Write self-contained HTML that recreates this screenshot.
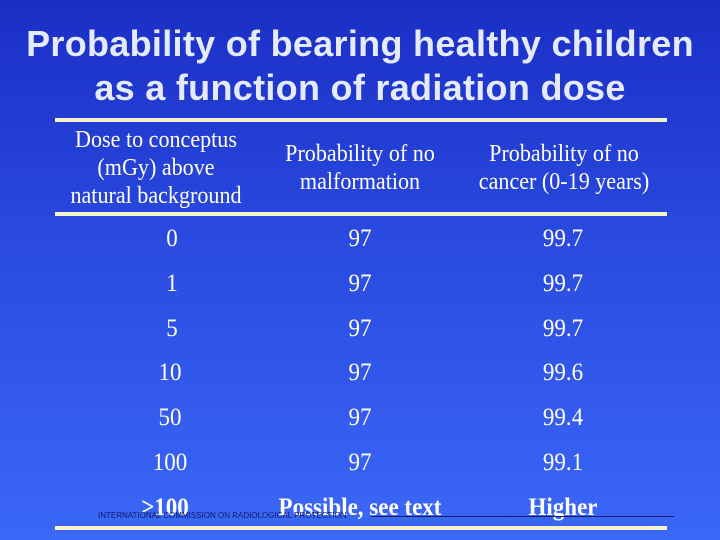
<!DOCTYPE html>
<html><head><meta charset="utf-8"><style>
body{margin:0;width:720px;height:540px;overflow:hidden;}
#slide{position:relative;width:720px;height:540px;background:linear-gradient(180deg,#1b2ec4 0%,#2a4ae0 45%,#3b68f8 100%);font-family:"Liberation Serif",serif;color:#fff;}
.t{position:absolute;left:0;width:720px;text-align:center;font-family:"Liberation Sans",sans-serif;font-weight:bold;font-size:36px;color:#e4eaff;letter-spacing:0.3px;}
.bar{position:absolute;left:55px;width:612px;height:4px;background:#f4f4c8;}
.c{position:absolute;text-align:center;font-size:25px;line-height:28px;white-space:nowrap;transform:translateX(-50%) scaleX(0.92);}
.h{font-size:24px;}
</style></head><body>
<div id="slide">
<div class="t" style="top:23px">Probability of bearing healthy children</div>
<div class="t" style="top:67px">as a function of radiation dose</div>
<div class="bar" style="top:118px"></div>
<div class="bar" style="top:212px"></div>
<div class="bar" style="top:526px;height:4px"></div>
<div class="c h" style="left:156px;top:126px">Dose to conceptus<br>(mGy) above<br>natural background</div>
<div class="c h" style="left:360px;top:140px">Probability of no<br>malformation</div>
<div class="c h" style="left:564px;top:140px">Probability of no<br>cancer (0-19 years)</div>
<div id="rows"></div>
<div style="position:absolute;left:98px;top:511px;font-family:'Liberation Sans',sans-serif;font-size:8px;color:#111a66;white-space:nowrap;">INTERNATIONAL COMMISSION ON RADIOLOGICAL PROTECTION</div>
<div style="position:absolute;left:371px;top:516px;width:303px;height:1px;background:#101a70;"></div>
</div>
<script>
const doses=["0","1","5","10","50","100",">100"];
const malf=["97","97","97","97","97","97","Possible, see text"];
const cancer=["99.7","99.7","99.7","99.6","99.4","99.1","Higher"];
const rows=document.getElementById('rows');
const cols=[[doses,172],[malf,360],[cancer,563]];
for(let i=0;i<doses.length;i++){
  cols.forEach(([arr,x],j)=>{
    const d=document.createElement('div');
    d.className='c';
    d.style.left=(j===0&&doses[i].length>1&&i<6?170:(j===0&&i===6?165:x))+'px';
    d.style.top=(225+i*44.8)+'px';
    if(i===6){d.style.fontWeight='bold';}
    d.textContent=arr[i];
    
    
    rows.appendChild(d);
  });
}
</script>
</body></html>
